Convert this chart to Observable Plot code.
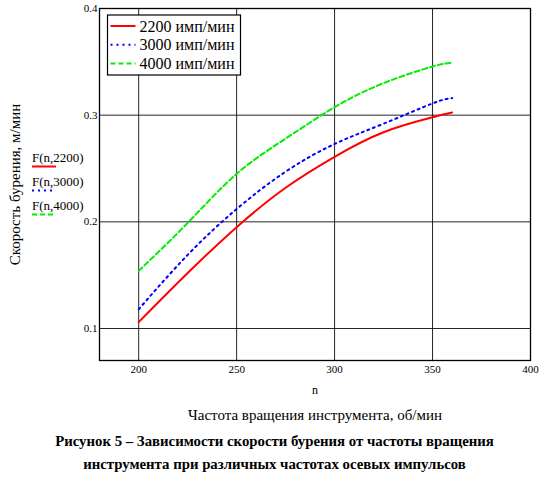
<!DOCTYPE html>
<html>
<head>
<meta charset="utf-8">
<script src="https://cdn.jsdelivr.net/npm/d3@7"></script>
<script src="https://cdn.jsdelivr.net/npm/@observablehq/plot@0.6"></script>
<style>
  body { margin: 0; background: #fff; }
  #caption { font-family: "Liberation Serif", "Times New Roman", serif; font-weight: bold; font-size: 14.8px; line-height: 23px; text-align: center; width: 549px; padding-top: 5px; color: #000; }
</style>
</head>
<body>
<div id="chart"></div>
<div id="caption">Рисунок 5 – Зависимости скорости бурения от частоты вращения<br>инструмента при различных частотах осевых импульсов</div>
<script>
const nValues = [200, 225, 250, 275, 300, 325, 350, 360];
const v2200 = [0.106, 0.152, 0.195, 0.232, 0.261, 0.284, 0.298, 0.3025];
const v3000 = [0.118, 0.169, 0.212, 0.247, 0.273, 0.292, 0.311, 0.316];
const v4000 = [0.154, 0.199, 0.245, 0.278, 0.3075, 0.330, 0.3456, 0.349];
const seriesNames = ["2200 имп/мин", "3000 имп/мин", "4000 имп/мин"];
const funcLabels = ["F(n,2200)", "F(n,3000)", "F(n,4000)"];
const xTicks = [200, 250, 300, 350, 400];
const yTicks = [0.1, 0.2, 0.3, 0.4];
const xDomain = [180, 400];
const yDomain = [0.07, 0.4];

const FONT = '"Liberation Serif", "Times New Roman", serif';
const colors = ["#ff0000", "#0000ff", "#00ee00"];
const dashes = [null, "2,4", "5,3"];
const rows = (vals) => nValues.map((n, i) => ({n, v: vals[i]}));
const allSeries = [v2200, v3000, v4000];

const plot = Plot.plot({
  width: 549,
  height: 425,
  marginLeft: 99,
  marginRight: 19,
  marginTop: 8,
  marginBottom: 65,
  style: {fontFamily: FONT, fontSize: "11px", color: "#000", background: "#fff"},
  x: {domain: xDomain, label: null},
  y: {domain: yDomain, label: null},
  marks: [
    Plot.gridX(xTicks.slice(0, -1), {stroke: "#000", strokeOpacity: 0.85, strokeWidth: 1}),
    Plot.gridY(yTicks.slice(0, -1), {stroke: "#000", strokeOpacity: 0.85, strokeWidth: 1}),
    ...allSeries.map((vals, i) => Plot.line(rows(vals), {
      x: "n", y: "v", curve: "natural",
      stroke: colors[i], strokeWidth: 2,
      strokeDasharray: dashes[i] || undefined
    })),
    Plot.frame({stroke: "#000", strokeWidth: 1.3}),
    Plot.axisX(xTicks, {tickSize: 0, tickPadding: 5, label: null, fontSize: 11}),
    Plot.axisY(yTicks, {tickSize: 0, tickPadding: 2, label: null, fontSize: 11, tickFormat: d => String(d)}),
    Plot.text(["n"], {frameAnchor: "bottom", dy: 30, lineAnchor: "middle", fontSize: 12}),
    Plot.text(["Частота вращения инструмента, об/мин"], {frameAnchor: "bottom", dy: 55, lineAnchor: "middle", fontSize: 15}),
    Plot.text(["Скорость бурения, м/мин"], {frameAnchor: "left", dx: -84, rotate: -90, textAnchor: "middle", lineAnchor: "middle", fontSize: 15})
  ]
});
document.getElementById("chart").appendChild(plot);

// legend box inside frame (Mathcad style)
const svg = d3.select(plot);
const lg = svg.append("g").attr("transform", "translate(107.5,15)");
lg.append("rect").attr("width", 133).attr("height", 60).attr("fill", "#fff").attr("stroke", "#000").attr("stroke-width", 1.2);
seriesNames.forEach((name, i) => {
  const y = 11 + i * 18.7;
  lg.append("line").attr("x1", 3).attr("x2", 28).attr("y1", y).attr("y2", y)
    .attr("stroke", colors[i]).attr("stroke-width", 2)
    .attr("stroke-dasharray", dashes[i]);
  lg.append("text").attr("x", 32).attr("y", y).attr("dy", "0.35em")
    .attr("text-anchor", "start")
    .attr("font-family", FONT).attr("font-size", 16).text(name);
});

// function labels to the left of the frame
const fl = svg.append("g").attr("transform", "translate(32,157)");
funcLabels.forEach((t, i) => {
  const y = i * 24;
  fl.append("text").attr("x", 0).attr("y", y).attr("dy", "0.35em")
    .attr("text-anchor", "start")
    .attr("font-family", FONT).attr("font-size", 13).text(t);
  fl.append("line").attr("x1", 0).attr("x2", 24).attr("y1", y + 9.5).attr("y2", y + 9.5)
    .attr("stroke", colors[i]).attr("stroke-width", 2)
    .attr("stroke-dasharray", dashes[i]);
});
</script>
</body>
</html>
